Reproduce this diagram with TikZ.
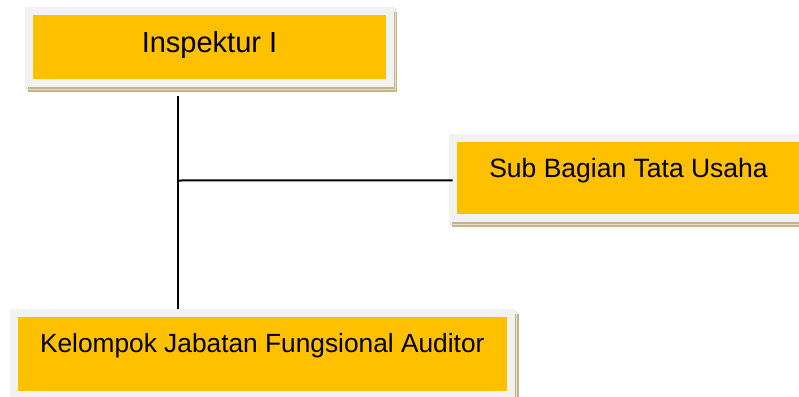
\documentclass[tikz,border=0pt]{standalone}
\usepackage{fontspec}
\setmainfont{Liberation Sans}
\usetikzlibrary{backgrounds}
\definecolor{boxgold}{HTML}{FFC000}
\definecolor{boxrim}{HTML}{F2F2F2}
\definecolor{shadowtan}{HTML}{C4B48A}
\definecolor{shadowlight}{HTML}{E6DECB}
\tikzset{
  unitbox/.style={draw=boxrim, fill=boxgold, line width=8pt, outer sep=4pt,
    inner sep=0pt, rectangle, align=center, text=black},
  link/.style={draw=black, line width=2pt},
}
% tan drop shadow behind a box, offset right and down (y axis points down)
\newcommand{\boxshadow}[3]{%
  \fill[shadowtan] ([shift={(#2,#3)}]#1.south west) rectangle ([shift={(#2,#3)}]#1.north east);
  \draw[shadowlight, line width=0.8pt] ([shift={(#2/2,#3/2)}]#1.south west) rectangle ([shift={(#2/2,#3/2)}]#1.north east);
}
\begin{document}
\begin{tikzpicture}[x=1pt, y=-1pt]
  \useasboundingbox (0,0) rectangle (799,396);

  \node[unitbox, minimum width=361pt, minimum height=72pt,
        text height=22pt, text depth=11.4pt, font=\fontsize{29}{34}\selectfont]
        (insp) at (209.5,47) {Inspektur I};
  \node[unitbox, minimum width=351pt, minimum height=80pt,
        text height=19pt, text depth=21pt, font=\fontsize{26.5}{31}\selectfont]
        (tu) at (628.5,178) {Sub Bagian Tata Usaha};
  \node[unitbox, minimum width=496.5pt, minimum height=82pt,
        text height=18pt, text depth=22pt, font=\fontsize{26.3}{31}\selectfont]
        (jfa) at (262.25,354) {Kelompok Jabatan Fungsional Auditor};

  \begin{scope}[on background layer]
    \boxshadow{insp}{3}{5}
    \boxshadow{tu}{3}{5}
    \boxshadow{jfa}{4}{5}
  \end{scope}

  % connectors
  \coordinate (trunk) at (178.3,96);
  \coordinate (junction) at (178.3,180.5);
  \coordinate (branch) at (452.7,180.3);
  \draw[link] (trunk) -- (trunk |- jfa.north);
  \draw[link] (junction) -- (branch);
\end{tikzpicture}
\end{document}
